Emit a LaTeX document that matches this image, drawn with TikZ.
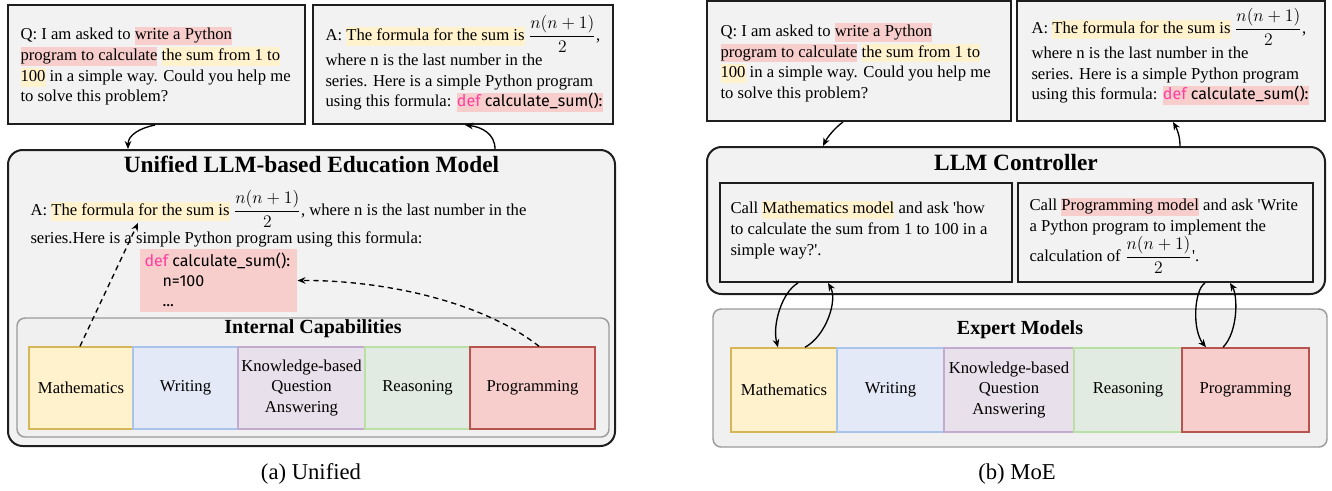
\documentclass[tikz,border=0pt]{standalone}
\usepackage{fontspec}
\usepackage{graphicx}
\setmainfont{Liberation Serif}
\newfontfamily\codefont{Fira Sans}
\newfontfamily\quotefont{Liberation Serif}
\usetikzlibrary{arrows.meta,calc}

\definecolor{boxfill}{RGB}{242,242,242}
\definecolor{boxline}{RGB}{30,30,30}
\definecolor{groupfill}{RGB}{240,240,240}
\definecolor{groupline}{RGB}{155,155,155}
\definecolor{hlyellow}{RGB}{255,242,204}
\definecolor{hlpink}{RGB}{248,206,204}
\definecolor{defpink}{RGB}{255,60,160}
\definecolor{mathfill}{RGB}{255,242,204}
\definecolor{mathline}{RGB}{214,182,86}
\definecolor{writefill}{RGB}{227,233,246}
\definecolor{writeline}{RGB}{169,196,235}
\definecolor{knowfill}{RGB}{232,224,234}
\definecolor{knowline}{RGB}{195,171,208}
\definecolor{reasonfill}{RGB}{226,235,225}
\definecolor{reasonline}{RGB}{185,224,165}
\definecolor{progfill}{RGB}{248,206,204}
\definecolor{progline}{RGB}{184,84,80}

\newcommand{\bodysize}{\fontsize{12.5}{15.5}\selectfont}
\newcommand{\pyfont}{\codefont\fontsize{12}{15}\selectfont}
\newcommand{\hly}[1]{{\setlength{\fboxsep}{0pt}\colorbox{hlyellow}{\rule[-4pt]{0pt}{14pt}#1}}}
\newcommand{\hlp}[1]{{\setlength{\fboxsep}{0pt}\colorbox{hlpink}{\rule[-4pt]{0pt}{14pt}#1}}}
\newcommand{\sumfrac}{\scalebox{1.1}{$\displaystyle\frac{n(n+1)}{2}$}}
\newcommand{\sq}{{\quotefont'}}

\tikzset{every picture/.style={line width=0.75pt}}
\tikzset{
  qabox/.style={draw=boxline, fill=boxfill, line width=1.5pt},
  bigbox/.style={draw=boxline, fill=boxfill, line width=1.5pt, rounded corners=11pt},
  groupbox/.style={draw=groupline, fill=groupfill, line width=1.1pt, rounded corners=6pt},
  capbox/.style={minimum height=#1, line width=1.1pt, align=center, font=\bodysize, inner sep=1pt},
  txt/.style={align=left, inner sep=0pt, font=\bodysize},
  ttl/.style={inner sep=0pt, font=\fontsize{17.5}{20}\selectfont\bfseries},
  gttl/.style={inner sep=0pt, font=\fontsize{15}{18}\selectfont\bfseries},
  subcap/.style={inner sep=0pt, font=\fontsize{17}{20}\selectfont},
  arr/.style={-{Stealth[length=6pt,width=5pt]}, line width=1pt},
  dasharr/.style={arr, dash pattern=on 4pt off 3pt}
}

\begin{document}
\begin{tikzpicture}[x=0.75pt,y=0.75pt,yscale=-1,xscale=1]
	\useasboundingbox (0,0) rectangle (1332,490);
	
	%%% (a) Unified
	%Shape: Rectangle
	\node (qL) at (156.5,64.5) [qabox, minimum width=222.75pt, minimum height=89.25pt] {};
	%Shape: Rectangle
	\node (aL) at (463,64.5) [qabox, minimum width=225pt, minimum height=89.25pt] {};
	%Rounded Rect
	\node (uniL) at (311.5,298) [bigbox, minimum width=455.25pt, minimum height=222pt] {};
	%Shape: Rectangle
	\node (codeL) at (218.5,280.5) [fill=hlpink, minimum width=117.75pt, minimum height=47.25pt] {};
	%Rounded Rect
	\node (capL) at (313,377.5) [groupbox, minimum width=444pt, minimum height=89.25pt] {};
	
	%Shape: Rectangle
	\node (mathL) at (81,388) [capbox=61.5pt, fill=mathfill, draw=mathline, minimum width=78pt] {Mathematics};
	\node (writeL) at (185.5,388) [capbox=61.5pt, fill=writefill, draw=writeline, minimum width=78.75pt] {Writing};
	\node (knowL) at (301.5,388) [capbox=61.5pt, fill=knowfill, draw=knowline, minimum width=95.25pt] {Knowledge-based\\Question\\Answering};
	\node (reasonL) at (417.5,388) [capbox=61.5pt, fill=reasonfill, draw=reasonline, minimum width=78.75pt] {Reasoning};
	\node (progL) at (532.5,388) [capbox=61.5pt, fill=progfill, draw=progline, minimum width=93.75pt] {Programming};
	
	% Text Node
	\node (qLtxt) at (20,66) [txt, anchor=west] {Q: I am asked to \hlp{write a Python}\\\hlp{program to calculate} \hly{the sum from 1 to}\\\hly{100} in a simple way. Could you help me\\to solve this problem?};
	% Text Node
	\node (aLtxt) at (325,15) [txt, anchor=north west] {A: \hly{The formula for the sum is} \sumfrac,\\where n is the last number in the\\series. Here is a simple Python program\\using this formula: \hlp{\pyfont\textcolor{defpink}{def} calculate\_sum():}};
	% Text Node
	\node (uniLttl) at (311.5,164) [ttl] {Unified LLM-based Education Model};
	% Text Node
	\node (ansL) at (30,190) [txt, anchor=north west] {A: \hly{The formula for the sum is} \sumfrac, where n is the last number in the\\[2pt]series.Here is a simple Python program using this formula:};
	% Text Node
	\node (codeLtxt) at (144,280) [txt, anchor=west, font=\pyfont] {\textcolor{defpink}{def} calculate\_sum():\\\hspace*{13.5pt}n=100\\\hspace*{13.5pt}...};
	% Text Node
	\node (capLttl) at (313,329) [gttl] {Internal Capabilities};
	% Text Node
	\node (subA) at (311,474) [subcap] {(a) Unified};
	
	%Curve Lines
	\draw [arr] ($(qL.south)+(-1.5,0)$) .. controls (140,128) and (128,135) .. ($(uniL.north)+(-183.5,0)$);
	\draw [arr] ($(uniL.north)+(183.5,0)$) .. controls (495,134) and (482,127) .. ($(aL.south)+(2,0)$);
	\coordinate (hitL) at (138,223);
	\draw [dasharr] ($(mathL.north)+(-1,0)$) -- (hitL);
	\draw [dasharr] ($(progL.north)+(6.5,0)$) .. controls (480,300) and (380,280) .. (codeL.east);
	
	%%% (b) MoE
	%Shape: Rectangle
	\node (qR) at (859,61) [qabox, minimum width=228pt, minimum height=90pt] {};
	%Shape: Rectangle
	\node (aR) at (1171,61) [qabox, minimum width=231pt, minimum height=90pt] {};
	%Rounded Rect
	\node (ctrl) at (1016,220.5) [bigbox, minimum width=463.5pt, minimum height=110.25pt] {};
	%Shape: Rectangle
	\node (callMath) at (866,232.5) [qabox, minimum width=219pt, minimum height=74.25pt] {};
	\node (callProg) at (1165.5,232.5) [qabox, minimum width=221.25pt, minimum height=74.25pt] {};
	%Rounded Rect
	\node (expR) at (1020,378) [groupbox, minimum width=460.5pt, minimum height=103.5pt] {};
	
	%Shape: Rectangle
	\node (mathR) at (784,390) [capbox=63pt, fill=mathfill, draw=mathline, minimum width=79.5pt] {Mathematics};
	\node (writeR) at (890.5,390) [capbox=63pt, fill=writefill, draw=writeline, minimum width=80.25pt] {Writing};
	\node (knowR) at (1009,390) [capbox=63pt, fill=knowfill, draw=knowline, minimum width=97.5pt] {Knowledge-based\\Question\\Answering};
	\node (reasonR) at (1128,390) [capbox=63pt, fill=reasonfill, draw=reasonline, minimum width=81pt] {Reasoning};
	\node (progR) at (1245.5,390) [capbox=63pt, fill=progfill, draw=progline, minimum width=95.25pt] {Programming};
	
	% Text Node
	\node (qRtxt) at (720,62.5) [txt, anchor=west] {Q: I am asked to \hlp{write a Python}\\\hlp{program to calculate} \hly{the sum from 1 to}\\\hly{100} in a simple way. Could you help me\\to solve this problem?};
	% Text Node
	\node (aRtxt) at (1031,8) [txt, anchor=north west] {A: \hly{The formula for the sum is} \sumfrac,\\where n is the last number in the\\series. Here is a simple Python program\\using this formula: \hlp{\pyfont\textcolor{defpink}{def} calculate\_sum():}};
	% Text Node
	\node (ctrlttl) at (1016,163) [ttl] {LLM Controller};
	% Text Node
	\node (callMathtxt) at (730,200) [txt, anchor=north west] {Call \hly{Mathematics model} and ask \sq how\\to calculate the sum from 1 to 100 in a\\simple way?\sq.};
	% Text Node
	\node (callProgtxt) at (1029,197) [txt, anchor=north west] {Call \hlp{Programming model} and ask \sq Write\\a Python program to implement the\\calculation of \sumfrac\sq.};
	% Text Node
	\node (expRttl) at (1020,330) [gttl] {Expert Models};
	% Text Node
	\node (subB) at (1017,474) [subcap] {(b) MoE};
	
	%Curve Lines
	\draw [arr] ($(qR.south)+(-16,0)$) .. controls (836,127) and (828,136) .. ($(ctrl.north)+(-193,0)$);
	\draw [arr] ($(ctrl.north)+(164,0)$) .. controls (1180,136) and (1177,129) .. ($(aR.south)+(2,0)$);
	\draw [arr] ($(callMath.south)+(-68,0)$) .. controls (782,292) and (772,325) .. ($(mathR.north)+(-6,0)$);
	\draw [arr] ($(mathR.north)+(21,0)$) .. controls (826,336) and (838,300) .. ($(callMath.south)+(-38,0)$);
	\draw [arr] ($(callProg.south)+(39.5,0)$) .. controls (1194,290) and (1192,330) .. ($(progR.north)+(-39.5,0)$);
	\draw [arr] ($(progR.north)+(-22.5,0)$) .. controls (1238,332) and (1238,296) .. ($(callProg.south)+(64.5,0)$);
\end{tikzpicture}
\end{document}
